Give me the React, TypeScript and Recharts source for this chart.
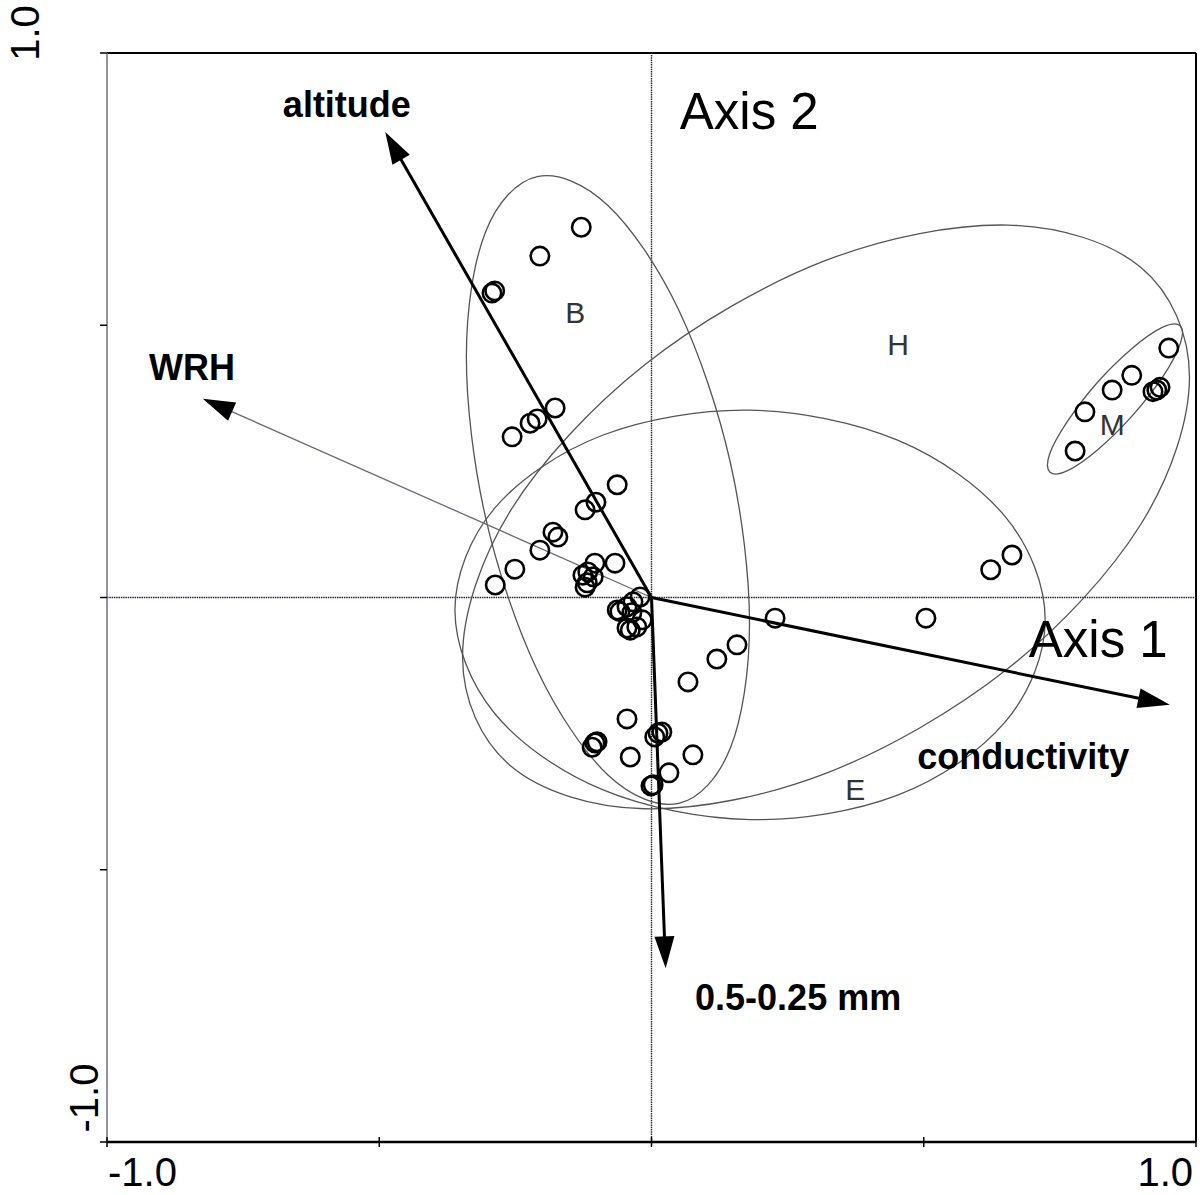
import React from 'react';
import { ComposedChart, XAxis, YAxis, Scatter, Line, ReferenceLine } from 'recharts';

const FONT = '"Liberation Sans", Arial, Helvetica, sans-serif';

// site scores on axis 1 / axis 2
const sites = [
  { x: -0.129, y: 0.680 }, { x: -0.205, y: 0.627 }, { x: -0.293, y: 0.559 }, { x: -0.288, y: 0.563 },
  { x: -0.177, y: 0.348 }, { x: -0.210, y: 0.328 }, { x: -0.223, y: 0.320 }, { x: -0.256, y: 0.295 },
  { x: -0.063, y: 0.207 }, { x: -0.102, y: 0.175 }, { x: -0.122, y: 0.161 }, { x: -0.181, y: 0.120 },
  { x: -0.172, y: 0.111 }, { x: -0.205, y: 0.087 }, { x: -0.251, y: 0.052 }, { x: -0.287, y: 0.023 },
  { x: -0.067, y: 0.063 }, { x: -0.104, y: 0.063 }, { x: -0.117, y: 0.047 }, { x: -0.126, y: 0.041 },
  { x: -0.107, y: 0.038 }, { x: -0.118, y: 0.027 }, { x: -0.122, y: 0.019 },
  { x: -0.021, y: 0.001 }, { x: -0.034, y: -0.008 }, { x: -0.045, y: -0.017 }, { x: -0.058, y: -0.026 },
  { x: -0.036, y: -0.028 }, { x: -0.017, y: -0.041 }, { x: -0.027, y: -0.054 }, { x: -0.039, y: -0.060 },
  { x: -0.045, y: -0.056 }, { x: -0.063, y: -0.023 },
  { x: 0.227, y: -0.038 }, { x: 0.157, y: -0.087 }, { x: 0.120, y: -0.113 }, { x: 0.067, y: -0.155 },
  { x: -0.045, y: -0.223 }, { x: -0.104, y: -0.267 }, { x: -0.100, y: -0.265 }, { x: -0.109, y: -0.275 },
  { x: -0.039, y: -0.293 }, { x: 0.012, y: -0.249 }, { x: 0.019, y: -0.247 }, { x: 0.006, y: -0.256 },
  { x: 0.076, y: -0.289 }, { x: 0.032, y: -0.322 }, { x: -0.001, y: -0.346 }, { x: 0.003, y: -0.344 },
  { x: 0.504, y: -0.038 }, { x: 0.623, y: 0.051 }, { x: 0.662, y: 0.078 },
  { x: 0.950, y: 0.458 }, { x: 0.882, y: 0.408 }, { x: 0.846, y: 0.381 }, { x: 0.921, y: 0.378 },
  { x: 0.928, y: 0.381 }, { x: 0.934, y: 0.386 }, { x: 0.796, y: 0.341 }, { x: 0.778, y: 0.269 },
];

// environmental variables (arrow tips)
const envVars = [
  { name: 'altitude', x: -0.489, y: 0.855, thick: true },
  { name: 'WRH', x: -0.824, y: 0.365, thick: false },
  { name: 'conductivity', x: 0.952, y: -0.197, thick: true },
  { name: '0.5-0.25 mm', x: 0.026, y: -0.681, thick: true },
];

// group envelopes, outline points
const envelopeB = [
  { x: 0.180, y: -0.048 }, { x: 0.145, y: -0.276 }, { x: 0.050, y: -0.378 }, { x: -0.080, y: -0.326 },
  { x: -0.210, y: -0.133 }, { x: -0.305, y: 0.148 }, { x: -0.340, y: 0.442 }, { x: -0.305, y: 0.671 },
  { x: -0.210, y: 0.773 }, { x: -0.080, y: 0.720 }, { x: 0.050, y: 0.528 }, { x: 0.145, y: 0.247 },
];
const envelopeH = [
  { x: 0.988, y: 0.405 }, { x: 0.899, y: 0.135 }, { x: 0.654, y: -0.131 }, { x: 0.320, y: -0.323 },
  { x: -0.013, y: -0.388 }, { x: -0.258, y: -0.310 }, { x: -0.347, y: -0.109 }, { x: -0.258, y: 0.161 },
  { x: -0.013, y: 0.427 }, { x: 0.320, y: 0.619 }, { x: 0.654, y: 0.684 }, { x: 0.899, y: 0.606 },
];
const envelopeE = [
  { x: 0.723, y: -0.041 }, { x: 0.650, y: -0.228 }, { x: 0.452, y: -0.363 }, { x: 0.181, y: -0.408 },
  { x: -0.090, y: -0.353 }, { x: -0.288, y: -0.213 }, { x: -0.361, y: -0.023 }, { x: -0.288, y: 0.164 },
  { x: -0.090, y: 0.298 }, { x: 0.181, y: 0.344 }, { x: 0.452, y: 0.289 }, { x: 0.650, y: 0.148 },
];
const envelopeM = [
  { x: 0.971, y: 0.499 }, { x: 0.971, y: 0.466 }, { x: 0.940, y: 0.407 }, { x: 0.884, y: 0.335 },
  { x: 0.820, y: 0.272 }, { x: 0.764, y: 0.233 }, { x: 0.732, y: 0.230 }, { x: 0.731, y: 0.263 },
  { x: 0.763, y: 0.322 }, { x: 0.818, y: 0.394 }, { x: 0.882, y: 0.457 }, { x: 0.938, y: 0.496 },
];

const groupLabels = [
  { text: 'B', x: -0.140, y: 0.504 },
  { text: 'H', x: 0.453, y: 0.445 },
  { text: 'M', x: 0.846, y: 0.298 },
  { text: 'E', x: 0.374, y: -0.372 },
];
const varLabels = [
  { text: 'altitude', x: -0.677, y: 0.882 },
  { text: 'WRH', x: -0.923, y: 0.399 },
  { text: 'conductivity', x: 0.488, y: -0.315 },
  { text: '0.5-0.25 mm', x: 0.080, y: -0.758 },
];
const axisNames = [
  { text: 'Axis 2', x: 0.052, y: 0.860 },
  { text: 'Axis 1', x: 0.693, y: -0.110 },
];

const xTicks = [-1, -0.5, 0, 0.5, 1];
const yTicks = [-1, -0.5, 0, 0.5, 1];
const tickText: Record<string, string> = { '-1': '-1.0', '1': '1.0' };

// closed Catmull-Rom curve for the envelopes
const closedSpline = (context: any) => {
  let pts: number[][] = [];
  return {
    areaStart() {},
    areaEnd() {},
    lineStart() { pts = []; },
    point(x: number, y: number) { pts.push([x, y]); },
    lineEnd() {
      const n = pts.length;
      if (!n) return;
      context.moveTo(pts[0][0], pts[0][1]);
      for (let i = 0; i < n; i++) {
        const p0 = pts[(i - 1 + n) % n];
        const p1 = pts[i];
        const p2 = pts[(i + 1) % n];
        const p3 = pts[(i + 2) % n];
        context.bezierCurveTo(
          p1[0] + (p2[0] - p0[0]) / 6, p1[1] + (p2[1] - p0[1]) / 6,
          p2[0] - (p3[0] - p1[0]) / 6, p2[1] - (p3[1] - p1[1]) / 6,
          p2[0], p2[1],
        );
      }
      context.closePath();
    },
  };
};

const arrowShape = (thick: boolean) => (p: any) => {
  const { x1, y1, x2, y2 } = p;
  const dx = x2 - x1;
  const dy = y2 - y1;
  const len = Math.hypot(dx, dy) || 1;
  const ux = dx / len;
  const uy = dy / len;
  const hl = 32;
  const hw = 10;
  const bx = x2 - ux * hl;
  const by = y2 - uy * hl;
  return (
    <g>
      <line x1={x1} y1={y1} x2={bx + ux * 4} y2={by + uy * 4} stroke={thick ? '#000' : '#6b6b78'} strokeWidth={thick ? 3 : 1.3} />
      <polygon points={`${x2},${y2} ${bx - uy * hw},${by + ux * hw} ${bx + uy * hw},${by - ux * hw}`} fill="#000" />
    </g>
  );
};

const XTick = ({ x, y, payload }: any) => {
  const v = payload.value;
  const label = tickText[String(v)];
  return (
    <g>
      <line x1={x} x2={x} y1={y - 5} y2={y + 5} stroke="#000" strokeWidth={1.5} />
      {label && (
        <text x={v < 0 ? x + 1 : x - 3} y={y + 44} textAnchor={v < 0 ? 'start' : 'end'}
          fontSize={40} fontFamily={FONT} fill="#000">{label}</text>
      )}
    </g>
  );
};

const YTick = ({ x, y, payload }: any) => {
  const v = payload.value;
  const label = tickText[String(v)];
  const tx = v > 0 ? x - 68 : x - 9;
  const ty = v > 0 ? y - 20 : y - 44;
  return (
    <g>
      <line x1={x - 7} x2={x} y1={y} y2={y} stroke="#000" strokeWidth={1.5} />
      {label && (
        <text transform={`translate(${tx},${ty}) rotate(-90)`} textAnchor="middle"
          fontSize={40} fontFamily={FONT} fill="#000">{label}</text>
      )}
    </g>
  );
};

const textShape = (style: any) => (p: any) => (
  <text x={p.cx} y={p.cy} fontFamily={FONT} {...style}>{p.payload.text}</text>
);

const siteShape = (p: any) => (
  <circle cx={p.cx} cy={p.cy} r={9.2} fill="none" stroke="#000" strokeWidth={2.6} />
);

export default function App() {
  const envelopes = [envelopeB, envelopeH, envelopeE, envelopeM];
  return (
    <div style={{ position: 'absolute', left: 0, top: 0, width: 1200, height: 1195, background: '#fff', fontFamily: FONT }}>
      <ComposedChart width={1200} height={1195} margin={{ top: 53, right: 4, bottom: 13, left: 47 }}>
        <XAxis type="number" dataKey="x" domain={[-1, 1]} ticks={xTicks} interval={0} height={40}
          tickSize={0} tickMargin={0} tickLine={false} axisLine={{ stroke: '#000', strokeWidth: 2.5 }}
          tick={(p: any) => <XTick {...p} />} />
        <YAxis type="number" dataKey="y" domain={[-1, 1]} ticks={yTicks} interval={0} width={60}
          tickSize={0} tickMargin={0} tickLine={false} axisLine={{ stroke: '#70708a', strokeWidth: 1.5 }}
          tick={(p: any) => <YTick {...p} />} />

        <ReferenceLine y={1} stroke="#000" strokeWidth={2} />
        <ReferenceLine x={1} stroke="#000" strokeWidth={2} />
        <ReferenceLine x={0} stroke="#22224a" strokeWidth={1.4} strokeDasharray="1.5 0.8" />
        <ReferenceLine y={0} stroke="#22224a" strokeWidth={1.4} strokeDasharray="1.5 0.8" />

        {envelopes.map((env, i) => (
          <Line key={`env-${i}`} data={env} dataKey="y" type={closedSpline as any} stroke="#555"
            strokeWidth={1.3} dot={false} activeDot={false} isAnimationActive={false} legendType="none" />
        ))}

        {envVars.map((v) => (
          <ReferenceLine key={v.name} segment={[{ x: 0, y: 0 }, { x: v.x, y: v.y }]} shape={arrowShape(v.thick)} />
        ))}

        <Scatter data={sites} shape={siteShape} isAnimationActive={false} />
        <Scatter data={groupLabels} isAnimationActive={false}
          shape={textShape({ fontSize: 30, fill: '#333', textAnchor: 'middle' })} />
        <Scatter data={varLabels} isAnimationActive={false}
          shape={textShape({ fontSize: 36, fontWeight: 'bold', fill: '#000', textAnchor: 'start' })} />
        <Scatter data={axisNames} isAnimationActive={false}
          shape={textShape({ fontSize: 51, fill: '#000', textAnchor: 'start' })} />
      </ComposedChart>
    </div>
  );
}
